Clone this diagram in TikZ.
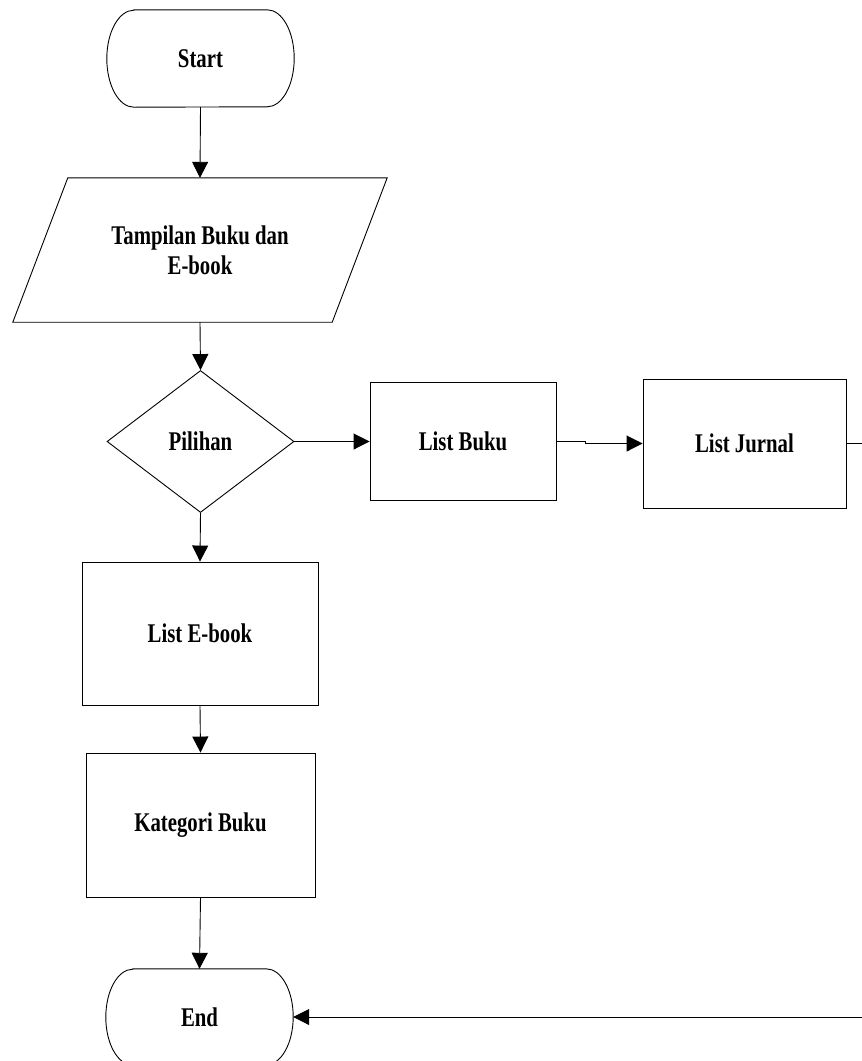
\documentclass[tikz,border=0pt]{standalone}
\usepackage{fontspec}
\setmainfont{Liberation Serif}[FakeStretch=0.77]
\usetikzlibrary{shapes.geometric,arrows.meta}
\begin{document}
\begin{tikzpicture}[x=1pt,y=-1pt,
  lbl/.style={font=\bfseries\fontsize{27}{30}\selectfont, align=center, inner sep=0pt},
  box/.style={lbl, draw=black, line width=0.9pt, rectangle},
  term/.style={lbl, rectangle, minimum width=187pt, minimum height=97pt},
  decide/.style={lbl, draw=black, line width=0.9pt, diamond, minimum width=187pt, minimum height=142pt},
  outline/.style={draw=black, line width=0.9pt},
  flow/.style={draw=black, line width=0.9pt, -{Triangle[length=16pt,width=16pt]}},
  wire/.style={draw=black, line width=0.9pt}]
\path[use as bounding box] (0,0) rectangle (862,1061);
\clip (0,0) rectangle (862,1061);

% terminals and process steps
\node[term] (start) at (200.5,58.5) {Start};
\node[lbl, minimum width=319pt, minimum height=144pt] (disp) at (200,250) {Tampilan Buku dan\\E-book};
\node[decide] (dia) at (200.5,441.5) {Pilihan};
\node[box, minimum width=186pt, minimum height=118pt] (buku) at (463,441.5) {List Buku};
\node[box, minimum width=203pt, minimum height=129pt] (jurnal) at (744.5,443.5) {List Jurnal};
\node[box, minimum width=236pt, minimum height=143pt] (ebook) at (200,633.5) {List E-book};
\node[box, minimum width=229pt, minimum height=144pt] (kat) at (200.5,825) {Kategori Buku};
\node[term, minimum height=96pt] (end) at (199.5,1017) {End};

% terminal outlines with elliptical ends
\foreach \t/\ry in {start/48.5, end/48} {
  \draw[outline] ([xshift=27pt]\t.north west) -- ([xshift=-27pt]\t.north east)
    arc[start angle=90, end angle=-90, x radius=27pt, y radius=\ry pt]
    -- ([xshift=27pt]\t.south west)
    arc[start angle=270, end angle=90, x radius=27pt, y radius=\ry pt] -- cycle;
}

% input/output parallelogram
\draw[outline] ([xshift=27.5pt]disp.north west) -- ([xshift=27.5pt]disp.north east)
  -- ([xshift=-27.5pt]disp.south east) -- ([xshift=-27.5pt]disp.south west) -- cycle;

% connectors
\draw[flow] (start.south) -- (disp.north);
\draw[flow] (disp.south) -- (dia.north);
\draw[flow] (dia.east) -- (buku.west);
\draw[flow] (buku.east) -- ++(29,0) |- (jurnal.west);
\draw[flow] (dia.south) -- (ebook.north);
\draw[flow] (ebook.south) -- (kat.north);
\draw[flow] (kat.south) -- (end.north);
\draw[flow] (jurnal.east) -- ++(40,0) |- (end.east);
\end{tikzpicture}
\end{document}
